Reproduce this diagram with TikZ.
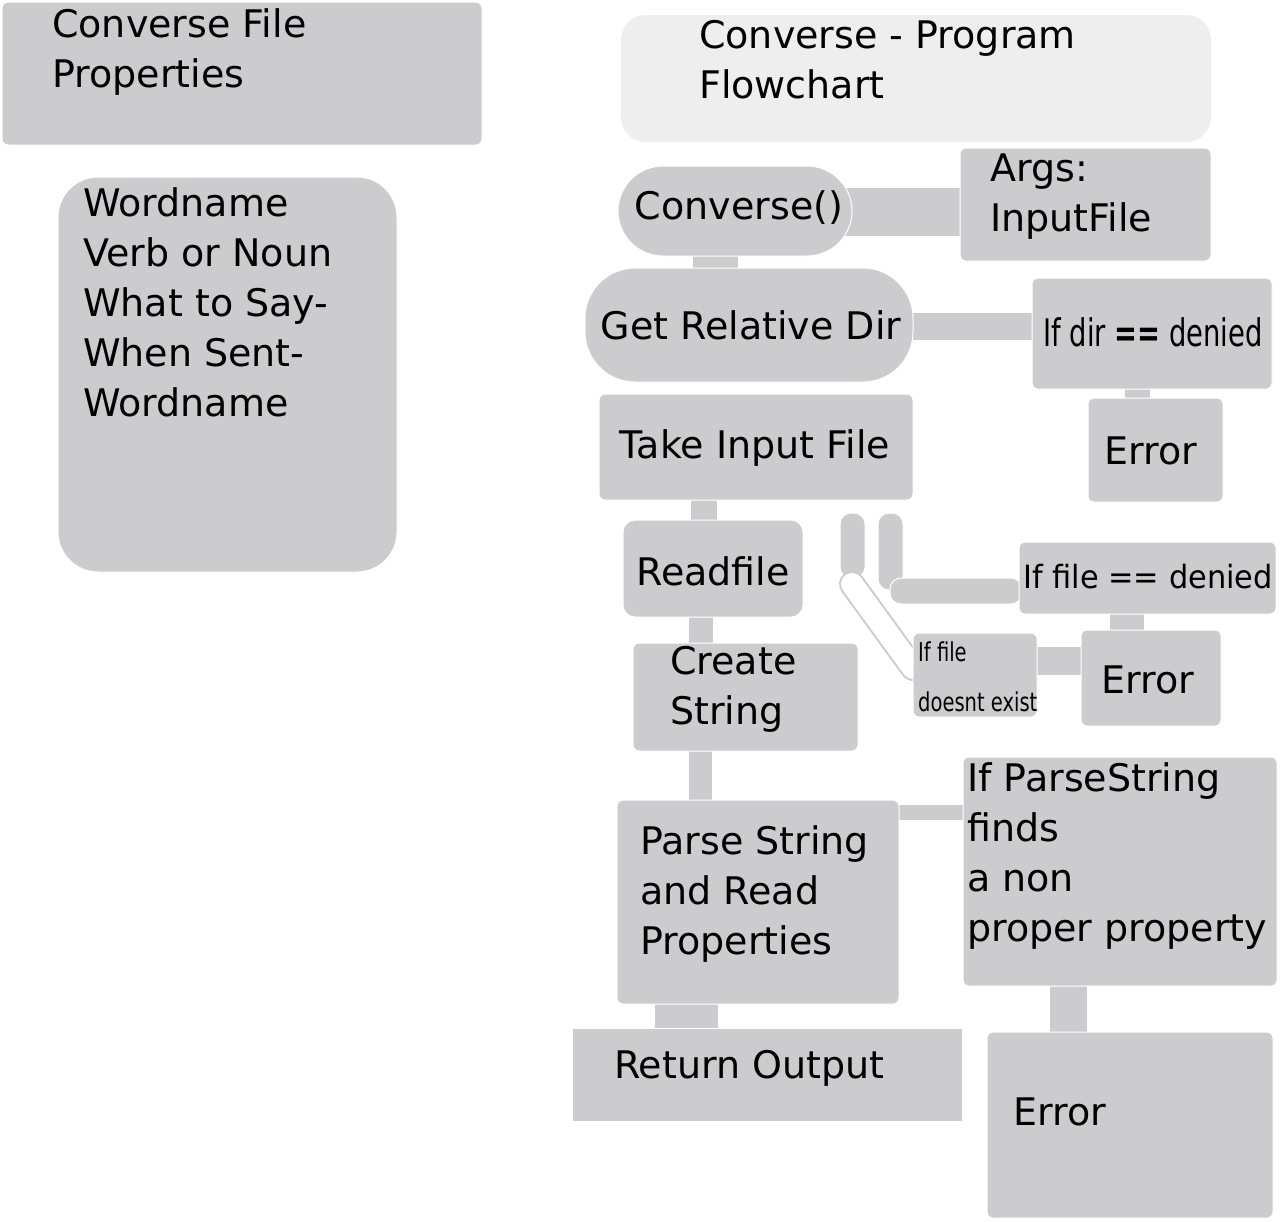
\documentclass[tikz,border=0pt]{standalone}
\usepackage{fontspec}
\usepackage{graphicx}
\setmainfont{DejaVu Sans}
\definecolor{bx}{HTML}{CCCCCE}
\definecolor{tb}{HTML}{EEEEEE}
\begin{document}
\begin{tikzpicture}[x=1pt,y=-1pt,
  bx/.style={fill=bx,draw=white,line width=1pt,rounded corners=6pt},
  cn/.style={fill=bx,draw=none},
  tx/.style={anchor=north west,align=left,inner sep=0pt,font=\fontsize{38}{50}\selectfont},
  tc/.style={anchor=center,align=center,inner sep=0pt,font=\fontsize{38}{50}\selectfont}]
\useasboundingbox (0,0) rectangle (1281,1221);
% left
\draw[bx] (2,2) rectangle (482,145);
\node[tx] (cfp) at (52,8) {Converse File\\Properties};
\draw[bx,rounded corners=40pt] (58,177) rectangle (397,572);
\node[tx] (wn) at (83,187) {Wordname\\Verb or Noun\\What to Say-\\When Sent-\\Wordname};
% title
\draw[fill=tb,draw=none,rounded corners=25pt] (621,15) rectangle (1211,142);
\node[tx] (tt) at (699,20) {Converse - Program\\Flowchart};
% connectors
\fill[cn] (845,188) rectangle (962,236);
\fill[cn] (693,256) rectangle (738,268);
\fill[cn] (913,313) rectangle (1032,340);
\fill[cn] (1125,389) rectangle (1150,398);
\fill[cn] (691,500) rectangle (717,520);
\fill[cn] (689,617) rectangle (713,643);
\fill[cn] (689,751) rectangle (712,800);
\fill[cn] (899,805) rectangle (963,820);
\fill[cn] (1050,986) rectangle (1087,1032);
\fill[cn] (655,1004) rectangle (718,1028);
\fill[cn] (1110,614) rectangle (1144,630);
\fill[cn] (1037,647) rectangle (1081,675);
\draw[bx,rounded corners=11pt] (840,513) rectangle (865,578);
\draw[bx,rounded corners=11pt] (878,513) rectangle (903,590);
\draw[bx,rounded corners=11pt] (890,578) rectangle (1022,604);
\draw[bx!100,line width=26pt,line cap=round] (852,584) -- (913,668);
\draw[bx,line width=22pt,line cap=round] (852,584) -- (913,668);
% boxes
\draw[bx,rounded corners=45pt] (618,166) rectangle (852,256);
\node[tc] (conv) at (739,208) {Converse()};
\draw[bx] (960,148) rectangle (1211,261);
\node[tx] (args) at (990,154) {Args:\\InputFile};
\draw[bx,rounded corners=50pt] (585,268) rectangle (913,382);
\node[tc] (grd) at (751,325) {Get Relative Dir};
\draw[bx] (1032,278) rectangle (1272,389);
\node[tc] (ifd) at (1153,332) {\scalebox{0.72}[1]{If dir \textbf{==} denied}};
\draw[bx] (1088,398) rectangle (1223,502);
\node[tc] (e1) at (1151,451) {Error};
\draw[bx] (599,394) rectangle (913,500);
\node[tc] (tif) at (755,448) {Take Input File};
\draw[bx,rounded corners=12pt] (623,520) rectangle (803,617);
\node[tc] (rf) at (713,571) {Readfile};
\draw[bx] (633,643) rectangle (858,751);
\node[tx] (cs) at (670,646) {Create\\String};
\draw[bx] (617,800) rectangle (899,1004);
\node[tx] (ps) at (640,825) {Parse String\\and Read\\Properties};
\draw[bx] (963,757) rectangle (1277,986);
\node[tx] (ifp) at (967,762) {If ParseString\\finds\\a non\\proper property};
\draw[bx] (987,1032) rectangle (1273,1218);
\node[tc] (e3) at (1060,1112) {Error};
\draw[bx,rounded corners=0pt] (572,1028) rectangle (962,1121);
\node[tx] (ro) at (614,1050) {Return Output};
\draw[bx] (1019,542) rectangle (1276,614);
\node[tc] (ifl) at (1148,577) {\fontsize{32}{40}\selectfont\scalebox{0.95}[1]{If file == denied}};
\draw[bx] (1081,630) rectangle (1221,726);
\node[tc] (e2) at (1148,680) {Error};
\draw[bx] (913,633) rectangle (1037,717);
\node[tx] (ifx) at (918,642) {\fontsize{26}{34}\selectfont\scalebox{0.75}[1]{If file}\\\fontsize{26}{34}\selectfont\scalebox{0.75}[1]{doesnt exist}};
\end{tikzpicture}
\end{document}
